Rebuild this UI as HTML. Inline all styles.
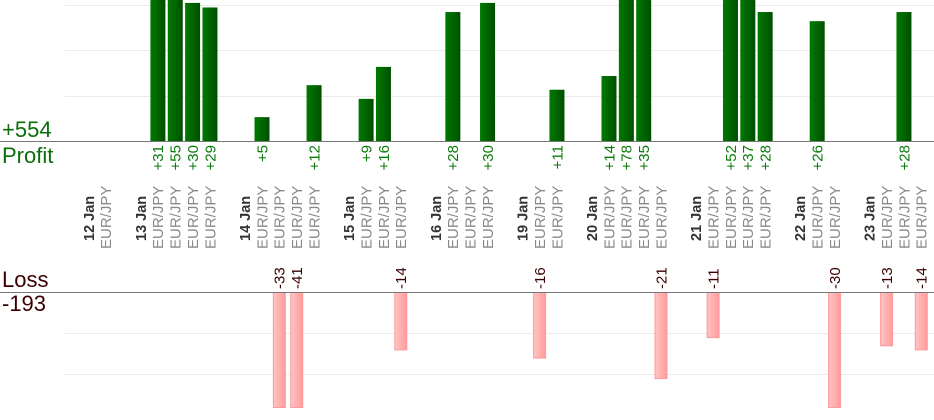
<!DOCTYPE html>
<html><head><meta charset="utf-8"><style>
html,body{margin:0;padding:0;background:#fff;}
svg{display:block;font-family:"Liberation Sans",sans-serif;}
</style></head><body>
<svg width="934" height="420" viewBox="0 0 934 420" xmlns="http://www.w3.org/2000/svg">
<defs>
<linearGradient id="g" x1="0" x2="1" y1="0" y2="0"><stop offset="0" stop-color="#007a00"/><stop offset="1" stop-color="#004f00"/></linearGradient>
<linearGradient id="r" x1="0" x2="1" y1="0" y2="0"><stop offset="0" stop-color="#ffc4c4"/><stop offset="1" stop-color="#ff9c9c"/></linearGradient>
</defs>
<g stroke="#ebebeb" stroke-width="1">
<line x1="65" y1="5.5" x2="934" y2="5.5"/><line x1="65" y1="50.5" x2="934" y2="50.5"/><line x1="65" y1="96.5" x2="934" y2="96.5"/>
<line x1="65" y1="333.5" x2="934" y2="333.5"/><line x1="65" y1="374.5" x2="934" y2="374.5"/>
</g>
<g id="bars"></g>
<line x1="0" y1="141.5" x2="934" y2="141.5" stroke="#777"/>
<line x1="0" y1="292.5" x2="934" y2="292.5" stroke="#777"/>
<text x="2" y="137" font-size="22" fill="#0a6e0a">+554</text>
<text x="2" y="163" font-size="22" fill="#0a6e0a">Profit</text>
<text x="2" y="287" font-size="22" fill="#3a0000">Loss</text>
<text x="2" y="311" font-size="22" fill="#3a0000">-193</text>
<g id="labels"></g>
</svg>
<script>
var ns="http://www.w3.org/2000/svg";
function X(i){return 88.5+17.35*i;}
var bars=document.getElementById('bars'),labs=document.getElementById('labels');
function el(p,t,a,txt){var e=document.createElementNS(ns,t);for(var k in a)e.setAttribute(k,a[k]);if(txt)e.textContent=txt;p.appendChild(e);return e;}
function rt(x,y,txt,anchor,size,fill,weight){el(labs,'text',{x:0,y:0,transform:'translate('+(x+5.3)+','+y+') rotate(-90)','text-anchor':anchor,'font-size':size,fill:fill,'font-weight':weight||'normal'},txt);}
var dates={0:'12 Jan',3:'13 Jan',9:'14 Jan',15:'15 Jan',20:'16 Jan',25:'19 Jan',29:'20 Jan',35:'21 Jan',41:'22 Jan',45:'23 Jan'};
var eur=[1,4,5,6,7,10,11,12,13,16,17,18,21,22,23,26,27,30,31,32,33,36,37,38,39,42,43,46,47,48];
for(var d in dates)rt(X(+d),241,dates[d],'start',14.5,'#333','bold');
eur.forEach(function(i){rt(X(i),249,'EUR/JPY','start',15,'#888');});
var prof={4:31,5:55,6:30,7:29,10:5,13:12,16:9,17:16,21:28,23:30,27:11,30:14,31:78,32:35,37:52,38:37,39:28,42:26,47:28};
for(var i in prof){var v=prof[i],h=Math.min(141,v*4.57+1),x=X(+i);
el(bars,'rect',{x:x-7.5,y:141-h,width:15,height:h,fill:'url(#g)'});
rt(x,145,'+'+v,'end',15,'#0a7a0a');}
var loss={11:33,12:41,18:14,26:16,33:21,36:11,43:30,46:13,48:14};
for(var i in loss){var v=loss[i],h=Math.min(115,v*4.1),x=X(+i);
el(bars,'rect',{x:x-6,y:292.5,width:12,height:h,fill:'url(#r)',stroke:'#ff9a9a','stroke-width':1});
rt(x,289,'-'+v,'start',15,'#3a0000');}
</script>
</body></html>
